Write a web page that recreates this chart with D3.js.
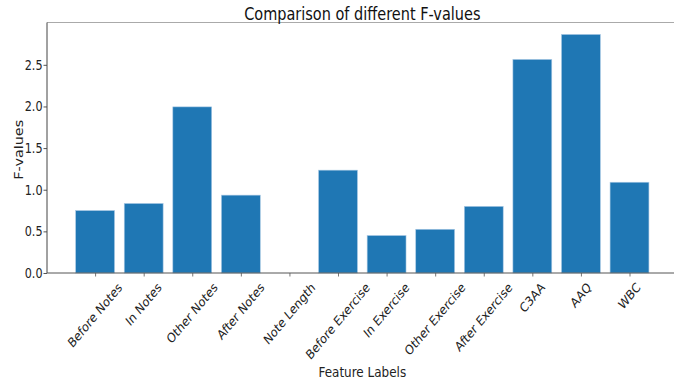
<!DOCTYPE html>
<html>
<head>
<meta charset="utf-8">
<script src="https://cdn.jsdelivr.net/npm/d3@7"></script>
<style>
  html, body { margin: 0; padding: 0; background: #fff; overflow: hidden; }
  svg { display: block; font-family: "DejaVu Sans", sans-serif; }
</style>
</head>
<body>
<svg id="chart" width="674" height="381"></svg>
<script>
// Feature names and their F-values
const categories = [
  "Before Notes", "In Notes", "Other Notes", "After Notes", "Note Length",
  "Before Exercise", "In Exercise", "Other Exercise", "After Exercise",
  "C3AA", "AAQ", "WBC"
];
const fValues = [0.75, 0.835, 1.995, 0.935, 0.0, 1.235, 0.45, 0.525, 0.80, 2.565, 2.865, 1.09];
const yTicks = [0.0, 0.5, 1.0, 1.5, 2.0, 2.5];

const svg = d3.select("#chart");
const plot = { left: 47, right: 677.6, top: 22.5, bottom: 273 };
const barWidth = 0.8;
const blue = "#1f77b4";
const stretch = 1.2;   // text is drawn a little taller than wide

// x: bar index with 5% margins around the bar extent
const xMin = -barWidth / 2, xMax = categories.length - 1 + barWidth / 2;
const xPad = (xMax - xMin) * 0.05;
const x = d3.scaleLinear().domain([xMin - xPad, xMax + xPad]).range([plot.left, plot.right]);

// y: zero-based with 5% headroom
const yMax = d3.max(fValues) * 1.05;
const y = d3.scaleLinear().domain([0, yMax]).range([plot.bottom, plot.top]);

// bars
svg.append("g").selectAll("rect").data(fValues).join("rect")
  .attr("x", (d, i) => x(i - barWidth / 2))
  .attr("width", (d, i) => x(i + barWidth / 2) - x(i - barWidth / 2))
  .attr("y", d => y(d))
  .attr("height", d => y(0) - y(d))
  .attr("fill", blue)
  .attr("stroke", "#a9c9e4")
  .attr("stroke-width", 0.6);

// y axis
const yAxis = svg.append("g")
  .attr("transform", `translate(${plot.left},0)`)
  .call(d3.axisLeft(y).tickValues(yTicks).tickFormat(d3.format(".1f")).tickSize(3.5).tickPadding(1));
yAxis.select(".domain").remove();
yAxis.selectAll(".tick line").attr("stroke", "#555");
yAxis.selectAll(".tick text")
  .attr("font-size", 11.2).attr("fill", "#222").attr("font-family", "DejaVu Sans")
  .attr("dy", null).attr("y", 0).attr("dominant-baseline", "central")
  .attr("transform", `scale(1,${stretch})`);

// x axis with ticks at the bar centres
const xAxis = svg.append("g")
  .attr("transform", `translate(0,${plot.bottom})`)
  .call(d3.axisBottom(x).tickValues(d3.range(categories.length)).tickFormat("").tickSize(3.5));
xAxis.select(".domain").remove();
xAxis.selectAll(".tick line").attr("stroke", "#777");

// rotated category labels, each centred on its tick
const labelTop = plot.bottom + 7;
const labelSize = 11;
const labels = svg.append("g").selectAll("text").data(categories).join("text")
  .text(d => d)
  .attr("font-size", labelSize)
  .attr("fill", "#222")
  .attr("text-anchor", "middle")
  .attr("dominant-baseline", "central");
labels.attr("transform", function (d, i) {
  const w = this.getComputedTextLength();
  const half = (w + labelSize * 1.1) * Math.SQRT1_2 / 2 * stretch;
  return `translate(${x(i)},${labelTop + half}) scale(1,${stretch}) rotate(-45)`;
});

// spines
svg.append("line").attr("x1", plot.left).attr("x2", plot.right).attr("y1", plot.top).attr("y2", plot.top)
  .attr("stroke", "#aaa").attr("stroke-width", 1);
svg.append("line").attr("x1", plot.left).attr("x2", plot.left).attr("y1", plot.top).attr("y2", plot.bottom)
  .attr("stroke", "#444").attr("stroke-width", 1);
svg.append("line").attr("x1", plot.left).attr("x2", plot.right).attr("y1", plot.bottom).attr("y2", plot.bottom)
  .attr("stroke", "#555").attr("stroke-width", 1);

// titles
const cx = (plot.left + plot.right) / 2;
svg.append("text").attr("transform", `translate(${cx},19.5) scale(1,${stretch})`).attr("text-anchor", "middle")
  .attr("font-size", 14.5).attr("fill", "#111").text("Comparison of different F-values");
svg.append("text").attr("transform", `translate(${cx},376.5) scale(1,${stretch})`).attr("text-anchor", "middle")
  .attr("font-size", 12).attr("fill", "#222").text("Feature Labels");
svg.append("text").attr("transform", `translate(23,${(plot.top + plot.bottom) / 2 + 2}) scale(1,${stretch}) rotate(-90)`)
  .attr("text-anchor", "middle").attr("font-size", 12).attr("fill", "#222").text("F-values");
</script>
</body>
</html>
